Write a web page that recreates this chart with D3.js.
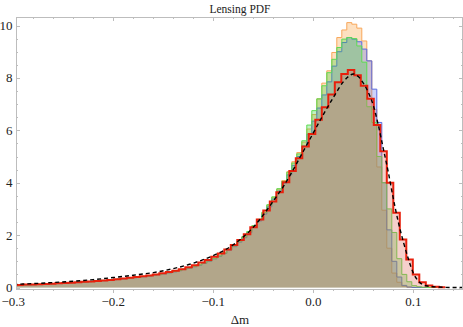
<!DOCTYPE html>
<html>
<head>
<meta charset="utf-8">
<script src="https://cdn.jsdelivr.net/npm/d3@7"></script>
<style>
  body { margin: 0; background: #fff; }
  svg { display: block; font-family: "Liberation Serif", "Times New Roman", serif; }
</style>
</head>
<body>
<svg id="chart" width="463" height="327"></svg>
<script>
const title = "Lensing PDF"
const xLabel = "Δm"
const xTicks = [-0.3, -0.2, -0.1, 0.0, 0.1]
const xTickLabels = ["−0.3", "−0.2", "−0.1", "0.0", "0.1"]
const yTicks = [0, 2, 4, 6, 8, 10]
const yTickLabels = ["0", "2", "4", "6", "8", "10"]

// orange / blue / green histograms share one binning
const binStart = -0.3015
const binWidth = 0.005
const orange = [0.09,0.095,0.10,0.105,0.115,0.12,0.13,0.14,0.145,0.155,0.17,0.18,0.19,0.20,0.21,0.22,0.235,0.25,0.265,0.285,0.30,0.32,0.34,0.355,0.375,0.395,0.42,0.445,0.475,0.50,0.53,0.565,0.605,0.65,0.695,0.745,0.805,0.865,0.935,1.015,1.105,1.205,1.315,1.445,1.585,
  1.76,1.93,2.12,2.34,2.58,2.85,3.14,3.44,3.76,4.08,4.42,4.8,5.15,5.55,6.05,
  6.6,7.2,7.8,8.27,8.97,9.54,9.83,10.11,10.05,9.9,9.41,8.65,6.8,4.6,2.95,1.5,0.55,0.2,0.05,0.01,0,0,0,0,0]
const blue = [0.085,0.09,0.095,0.105,0.11,0.12,0.125,0.135,0.145,0.155,0.165,0.175,0.185,0.195,0.21,0.22,0.23,0.245,0.26,0.28,0.295,0.315,0.33,0.35,0.37,0.39,0.41,0.435,0.465,0.49,0.52,0.555,0.595,0.64,0.685,0.735,0.79,0.85,0.92,1.0,1.09,1.19,1.30,1.43,1.56,
  1.73,1.90,2.09,2.30,2.54,2.80,3.08,3.38,3.68,3.98,4.30,4.66,5.0,5.4,5.85,
  6.35,6.85,7.35,7.85,8.45,9.0,9.35,9.54,9.48,9.38,9.1,8.65,7.57,6.3,4.0,2.2,1.0,0.4,0.08,0.02,0,0,0,0,0]
const green = [0.09,0.095,0.10,0.11,0.115,0.125,0.13,0.14,0.15,0.16,0.17,0.18,0.19,0.20,0.215,0.225,0.24,0.25,0.27,0.29,0.305,0.325,0.34,0.36,0.38,0.40,0.425,0.45,0.48,0.505,0.535,0.57,0.61,0.655,0.70,0.75,0.81,0.87,0.94,1.02,1.11,1.21,1.32,1.45,1.59,
  1.77,1.94,2.14,2.36,2.60,2.87,3.16,3.46,3.77,4.05,4.4,4.75,5.1,5.6,6.2,
  6.75,7.2,7.7,8.2,8.71,9.16,9.48,9.54,9.5,9.22,8.6,6.9,6.3,5.0,4.0,3.0,2.1,1.1,0.5,0.22,0.07,0.03,0.01,0,0]

// red histogram has its own, slightly wider bins
const redStart = -0.3035
const redWidth = 0.0065
const red = [0.09,0.10,0.11,0.115,0.125,0.135,0.145,0.16,0.17,0.185,
  0.20,0.215,0.23,0.25,0.27,0.29,0.315,0.345,0.37,0.40,
  0.43,0.46,0.50,0.54,0.59,0.64,0.70,0.77,0.85,0.95,
  1.05,1.17,1.30,1.45,1.62,1.81,2.03,2.30,2.60,2.94,
  3.28,3.64,4.02,4.45,4.93,5.38,5.86,6.4,6.88,7.37,
  7.83,8.15,8.3,8.1,7.7,7.2,6.2,5.2,4.0,2.85,
  1.83,1.07,0.5,0.2,0.08,0.03,0.01]

// dashed model curve
const curveX = [-0.30,-0.28,-0.26,-0.24,-0.22,-0.20,-0.18,-0.16,-0.14,-0.12,-0.10,-0.09,-0.08,-0.07,-0.06,-0.05,-0.04,-0.03,-0.02,-0.01,0.00,0.01,0.02,0.03,0.035,0.04,0.045,0.05,0.055,0.06,0.065,0.07,0.075,0.08,0.085,0.09,0.095,0.10,0.105,0.11,0.115,0.12,0.13,0.14,0.15]
const curveY = [0.12,0.15,0.19,0.24,0.30,0.38,0.47,0.57,0.72,0.93,1.22,1.40,1.63,1.93,2.30,2.77,3.30,3.85,4.50,5.20,5.90,6.60,7.25,7.85,8.05,8.15,8.05,7.80,7.45,6.95,6.20,5.30,4.40,3.40,2.50,1.75,1.10,0.55,0.25,0.10,0.05,0.03,0.01,0.0,0.0]

const svg = d3.select("#chart")
const plot = { left: 16, right: 463, top: 17, bottom: 289 }

const x = d3.scaleLinear().domain([-0.3, 0.15]).range([13.3, 463.3])
const y = d3.scaleLinear().domain([0, 10]).range([287.5, 25.5])

svg.append("defs").append("clipPath").attr("id", "clip")
  .append("rect")
  .attr("x", plot.left).attr("y", plot.top)
  .attr("width", plot.right - plot.left).attr("height", plot.bottom - plot.top)

const body = svg.append("g").attr("clip-path", "url(#clip)")

function steps(values, start, width) {
  const pts = values.map((v, i) => [start + i * width, v])
  pts.push([start + values.length * width, values[values.length - 1]])
  return pts
}

const area = d3.area().curve(d3.curveStepAfter)
  .x(d => x(d[0])).y0(y(0)).y1(d => y(d[1]))
const line = d3.line().curve(d3.curveStepAfter)
  .x(d => x(d[0])).y(d => y(d[1]))

const series = [
  { values: orange, start: binStart, width: binWidth, fill: "rgb(248,152,45)", stroke: "#f8a75a", sw: 1 },
  { values: blue, start: binStart, width: binWidth, fill: "rgb(85,110,245)", stroke: "#5a6ce0", sw: 1 },
  { values: green, start: binStart, width: binWidth, fill: "rgb(61,207,56)", stroke: "#5cdc52", sw: 1 },
  { values: red, start: redStart, width: redWidth, fill: "rgb(222,98,83)", stroke: "#e8200c", sw: 2 },
]

series.forEach(s => {
  const pts = steps(s.values, s.start, s.width)
  body.append("path").attr("d", area(pts))
    .attr("fill", s.fill).attr("fill-opacity", 0.3)
  body.append("path").attr("d", line(pts))
    .attr("fill", "none").attr("stroke", s.stroke).attr("stroke-width", s.sw)
    .attr("stroke-linejoin", "miter")
})

body.append("path")
  .attr("d", d3.line().curve(d3.curveMonotoneX)
    .x((d, i) => x(curveX[i])).y(d => y(d))(curveY))
  .attr("fill", "none").attr("stroke", "#000").attr("stroke-width", 1.4)
  .attr("stroke-dasharray", "4,3")

// frame
const frame = svg.append("g").attr("stroke", "#bdbdbd").attr("stroke-width", 1).attr("fill", "none")
frame.append("line").attr("x1", plot.left).attr("x2", plot.right).attr("y1", plot.top + 0.5).attr("y2", plot.top + 0.5)
frame.append("line").attr("x1", plot.left).attr("x2", plot.right).attr("y1", plot.bottom + 0.5).attr("y2", plot.bottom + 0.5)
frame.append("line").attr("x1", plot.left + 0.5).attr("x2", plot.left + 0.5).attr("y1", plot.top).attr("y2", plot.bottom)
frame.append("line").attr("x1", plot.right - 0.5).attr("x2", plot.right - 0.5).attr("y1", plot.top).attr("y2", plot.bottom)

const xMinor = d3.range(-0.3, 0.1501, 0.02).map(v => +v.toFixed(3))
const yMinor = d3.range(0, 10.01, 0.5)

xMinor.forEach(v => {
  const px = Math.round(x(v)) + 0.5
  if (px < plot.left || px > plot.right) return
  const major = xTicks.some(t => Math.abs(t - v) < 1e-6)
  const len = major ? 4 : 2
  frame.append("line").attr("x1", px).attr("x2", px).attr("y1", plot.bottom).attr("y2", plot.bottom + len)
  frame.append("line").attr("x1", px).attr("x2", px).attr("y1", plot.top).attr("y2", plot.top + len)
})
yMinor.forEach(v => {
  const py = Math.round(y(v)) + 0.5
  const major = yTicks.includes(v)
  const len = major ? 4 : 2
  frame.append("line").attr("x1", plot.left).attr("x2", plot.left + len).attr("y1", py).attr("y2", py)
  frame.append("line").attr("x1", plot.right).attr("x2", plot.right - len).attr("y1", py).attr("y2", py)
})

// labels
svg.append("g").selectAll("text").data(xTicks).join("text")
  .attr("x", d => x(d)).attr("y", 306)
  .attr("text-anchor", "middle").attr("font-size", 13).attr("fill", "#222")
  .text((d, i) => xTickLabels[i])

svg.append("g").selectAll("text").data(yTicks).join("text")
  .attr("x", 12.5).attr("y", d => y(d) + 4.5)
  .attr("text-anchor", "end").attr("font-size", 13).attr("fill", "#222")
  .text((d, i) => yTickLabels[i])

svg.append("text").attr("x", 240).attr("y", 12.5)
  .attr("text-anchor", "middle").attr("font-size", 11.5).attr("fill", "#222")
  .text(title)

svg.append("text").attr("x", 240).attr("y", 324)
  .attr("text-anchor", "middle").attr("font-size", 13).attr("fill", "#222")
  .text(xLabel)
</script>
</body>
</html>
